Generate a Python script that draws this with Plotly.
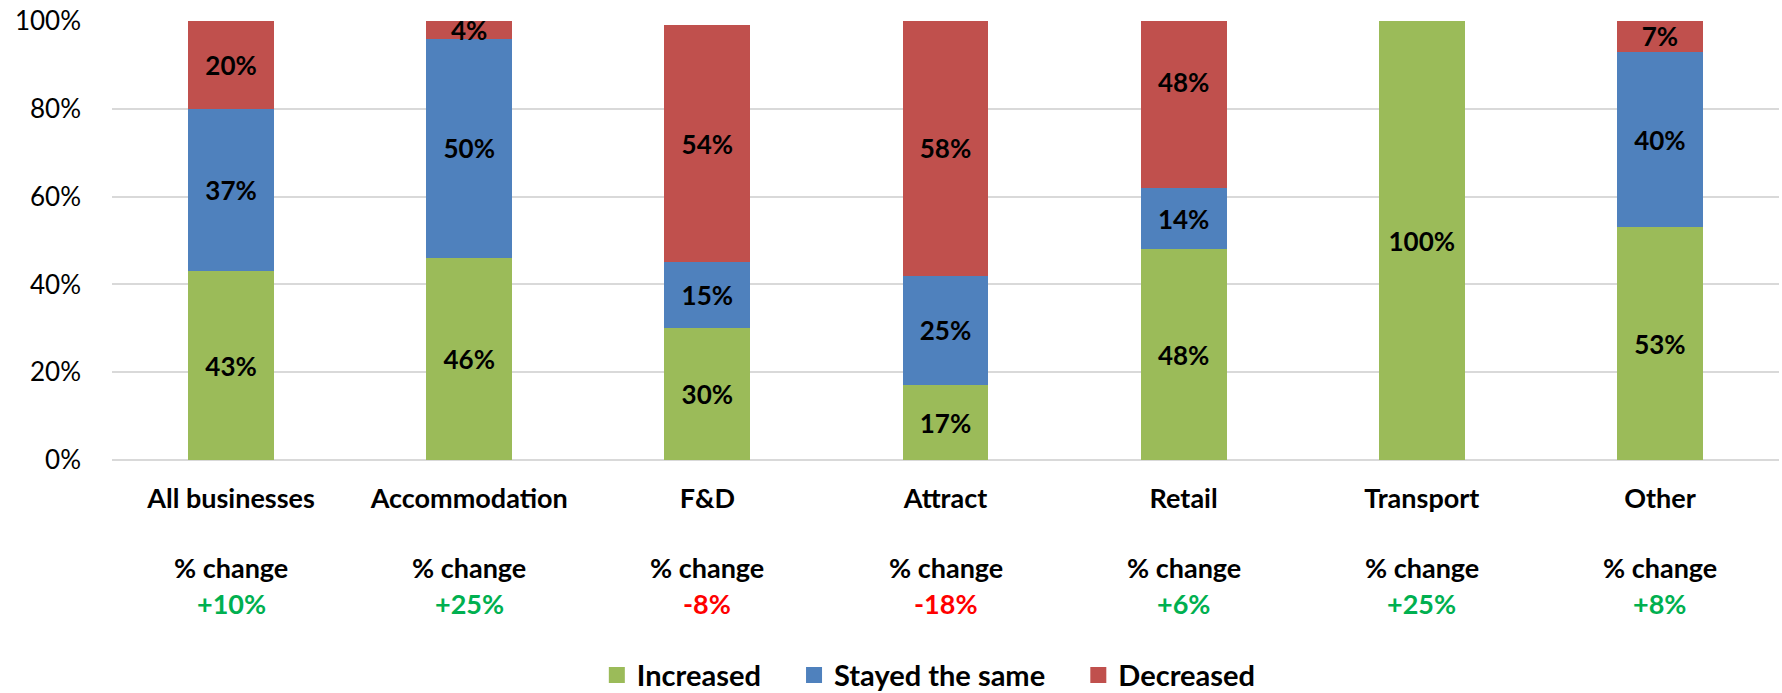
import plotly.graph_objects as go

# Share of businesses reporting each outcome, by sector (%)
categories = ["All businesses", "Accommodation", "F&D", "Attract", "Retail", "Transport", "Other"]
increased = [43, 46, 30, 17, 48, 100, 53]
stayed_same = [37, 50, 15, 25, 14, 0, 40]
decreased = [20, 4, 54, 58, 48, 0, 7]
pct_change = ["+10%", "+25%", "-8%", "-18%", "+6%", "+25%", "+8%"]

y_ticks = [0, 20, 40, 60, 80, 100]
y_tick_labels = ["0%", "20%", "40%", "60%", "80%", "100%"]

FONT = "Lato"
GREEN, BLUE, RED = "#9BBB59", "#4F81BD", "#C0504D"
POS, NEG = "#00B050", "#FF0000"
PAD = "\u00a0" * 4  # extra room after each legend entry


def labels(values):
    return [f"{v}%" if v else "" for v in values]


series = [
    ("Increased", increased, GREEN),
    ("Stayed the same", stayed_same, BLUE),
    ("Decreased", decreased, RED),
]

fig = go.Figure()
for name, vals, color in series:
    fig.add_trace(go.Bar(
        name=name,
        x=categories,
        y=vals,
        marker=dict(color=color, line=dict(width=0)),
        width=0.36,
        text=labels(vals),
        textposition="inside",
        insidetextanchor="middle",
        constraintext="none",
        textangle=0,
        textfont=dict(family=FONT, size=26, color="black", weight="bold"),
        showlegend=False,
    ))

# legend entries with larger square swatches
for i, (name, _, color) in enumerate(series):
    fig.add_trace(go.Scatter(
        name=name + (PAD if i < len(series) - 1 else ""),
        x=[None], y=[None], mode="markers",
        marker=dict(symbol="square", size=18, color=color),
        showlegend=True,
    ))

# "% change" caption and value under each sector
for cat, chg in zip(categories, pct_change):
    fig.add_annotation(x=cat, xref="x", y=-0.246, yref="paper", yanchor="middle",
                       text="<b>% change</b>", showarrow=False,
                       font=dict(family=FONT, size=27, color="black"))
    fig.add_annotation(x=cat, xref="x", y=-0.326, yref="paper", yanchor="middle",
                       text=f"<b>{chg}</b>", showarrow=False,
                       font=dict(family=FONT, size=27, color=NEG if chg.startswith("-") else POS))

fig.update_layout(
    barmode="stack",
    width=1782,
    height=693,
    margin=dict(l=112, r=3, t=21, b=233, autoexpand=False),
    paper_bgcolor="white",
    plot_bgcolor="white",
    font=dict(family=FONT, color="black"),
    legend=dict(
        orientation="h",
        x=0.49, xanchor="center",
        y=-0.49, yanchor="middle",
        font=dict(family=FONT, size=29, color="black", weight="bold"),
        itemsizing="trace",
        traceorder="normal",
    ),
    xaxis=dict(
        showgrid=False,
        showline=False,
        ticks="",
        tickfont=dict(family=FONT, size=27, color="black", weight="bold"),
        ticklabelstandoff=20,
    ),
    yaxis=dict(
        range=[0, 100],
        tickvals=y_ticks,
        ticktext=y_tick_labels,
        tickfont=dict(family=FONT, size=26, color="black"),
        showgrid=True,
        gridcolor="#D9D9D9",
        gridwidth=1.5,
        zeroline=True,
        zerolinecolor="#D9D9D9",
        zerolinewidth=1.5,
        ticks="",
        ticklabelstandoff=30,
    ),
)

fig.write_html("out.html")
